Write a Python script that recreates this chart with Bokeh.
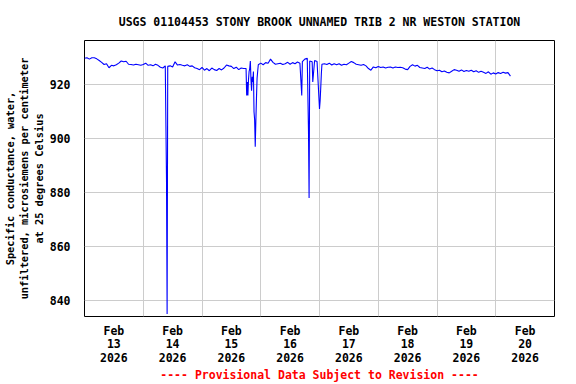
from bokeh.plotting import figure
from bokeh.models import FixedTicker, Title, Range1d
from bokeh.embed import file_html
from bokeh.resources import INLINE

title_text = "USGS 01104453 STONY BROOK UNNAMED TRIB 2 NR WESTON STATION"
y_label = "Specific conductance, water,\nunfiltered, microsiemens per centimeter\nat 25 degrees Celsius"
footer_text = "---- Provisional Data Subject to Revision ----"
month_label = "Feb"
year_label = "2026"
day_labels = ["13", "14", "15", "16", "17", "18", "19", "20"]
y_ticks = [840, 860, 880, 900, 920]

# hourly readings, hours since Feb 13 00:00
base_vals = [
    929.8, 930.0, 929.5, 930.0, 930.0, 929.6, 929.0, 928.3, 927.5, 927.8,
    926.3, 927.2, 927.0, 927.4, 928.0, 928.8, 928.5, 928.7, 927.6, 927.5,
    927.3, 927.6, 927.4, 927.2, 927.5, 928.0, 927.2, 927.4, 927.0, 927.6,
    927.2, 926.5, 926.2, 927.0, 926.8, 927.0, 926.6, 928.5, 927.3, 927.5,
    927.2, 927.0, 927.4, 926.8, 927.0, 926.3, 926.0, 925.6, 926.4, 925.4,
    926.0, 925.2, 926.2, 925.6, 925.3, 926.0, 925.5, 926.2, 927.3, 927.0,
    926.8, 926.0, 926.5, 925.6, 926.2, 926.0, 926.0, 922.0, 922.0, 924.9,
    906.5, 927.4, 928.0, 927.4, 928.2, 928.0, 929.5, 928.3, 927.6, 927.8,
    928.0, 927.5, 927.8, 928.3, 927.6, 928.2, 927.8, 928.4, 928.0, 928.6,
    929.5, 929.8, 928.8, 928.5, 929.0, 928.6, 911.0, 927.6, 927.8, 927.5,
    928.0, 927.3, 927.8, 927.4, 927.8, 927.2, 927.6, 927.4, 928.0, 928.6,
    928.2, 927.6, 927.4, 927.2, 927.5, 927.0, 926.0, 925.4, 926.6, 926.3,
    926.8, 926.4, 926.6, 926.2, 926.5, 926.6, 926.2, 926.6, 926.4, 926.5,
    926.3, 925.8, 925.6, 926.8, 927.4, 926.9, 927.2, 926.4, 926.2, 926.0,
    926.5, 925.8, 926.2, 925.6, 925.2, 925.4, 924.8, 925.1, 924.6, 924.4,
    925.0, 925.6, 925.4, 925.0, 925.5, 924.9, 925.3, 925.0, 925.4, 924.8,
    925.2, 924.6, 925.0, 924.6, 924.2, 924.8, 923.9, 924.4, 924.0, 924.5,
    924.2, 924.6, 924.3, 924.5, 923.2,
]

# extra quarter-hour readings during the dips
extra_hours = [33.5, 33.75, 66.25, 66.5, 66.75, 67.25, 67.5, 67.75, 68.25, 68.5,
               68.75, 69.25, 69.5, 69.75, 70.25, 70.5, 70.75, 88.75, 91.5, 91.75,
               93.25, 96.25, 96.5, 96.75]
extra_vals = [885.0, 835.0, 916.0, 921.0, 916.0, 925.0, 926.0, 928.8, 917.8, 923.0,
              921.0, 910.0, 907.0, 897.0, 915.0, 922.4, 925.0, 916.0, 903.0, 878.0,
              921.0, 914.0, 918.7, 924.0]

pairs = sorted(zip(list(range(len(base_vals))) + extra_hours, base_vals + extra_vals))
xs = [a for a, b in pairs]
ys = [b for a, b in pairs]

FONT = "DejaVu Sans Mono"

p = figure(width=560, height=384, output_backend="svg", toolbar_location=None,
           x_range=Range1d(0, 192), y_range=Range1d(834.1, 936.4),
           min_border_left=84, min_border_right=6, min_border_top=39,
           min_border_bottom=68)

p.background_fill_color = "white"
p.border_fill_color = "white"
p.outline_line_color = "black"
p.outline_line_width = 1

p.title.text = title_text
p.title.align = "center"
p.title.text_font = FONT
p.title.text_font_size = "11.5px"
p.title.text_font_style = "bold"
p.title.text_color = "black"
p.title.standoff = 24

p.line(xs, ys, line_color="#0000FF", line_width=1.1)

noon_ticks = [12 + 24 * i for i in range(len(day_labels))]
p.xaxis.ticker = FixedTicker(ticks=noon_ticks)
p.xaxis.major_label_overrides = {t: f"{month_label}\n{d}\n{year_label}"
                                 for t, d in zip(noon_ticks, day_labels)}
p.xgrid.ticker = FixedTicker(ticks=[24 * i for i in range(1, 8)])
p.yaxis.ticker = FixedTicker(ticks=y_ticks)

for ax in (p.xaxis, p.yaxis):
    ax.axis_line_color = None
    ax.major_tick_line_color = None
    ax.minor_tick_line_color = None
    ax.major_tick_out = 0
    ax.major_tick_in = 0
    ax.major_label_text_font = FONT
    ax.major_label_text_font_size = "11.5px"
    ax.major_label_text_font_style = "bold"
    ax.major_label_text_color = "black"

p.xaxis.major_label_standoff = 7
p.xaxis.major_label_text_line_height = 0.97
p.yaxis.major_label_standoff = 14

p.yaxis.axis_label = y_label
p.yaxis.axis_label_text_font = FONT
p.yaxis.axis_label_text_font_size = "10.3px"
p.yaxis.axis_label_text_font_style = "bold"
p.yaxis.axis_label_text_color = "black"
p.yaxis.axis_label_text_line_height = 1.21
p.yaxis.axis_label_standoff = 2

for g in (p.xgrid, p.ygrid):
    g.grid_line_color = "#CCCCCC"
    g.grid_line_width = 1

footer = Title(text=footer_text, align="center", text_color="#FF0000",
               text_font=FONT, text_font_size="11.5px", text_font_style="bold",
               standoff=-3)
p.add_layout(footer, "below")

open("out.html", "w").write(file_html(p, INLINE))
